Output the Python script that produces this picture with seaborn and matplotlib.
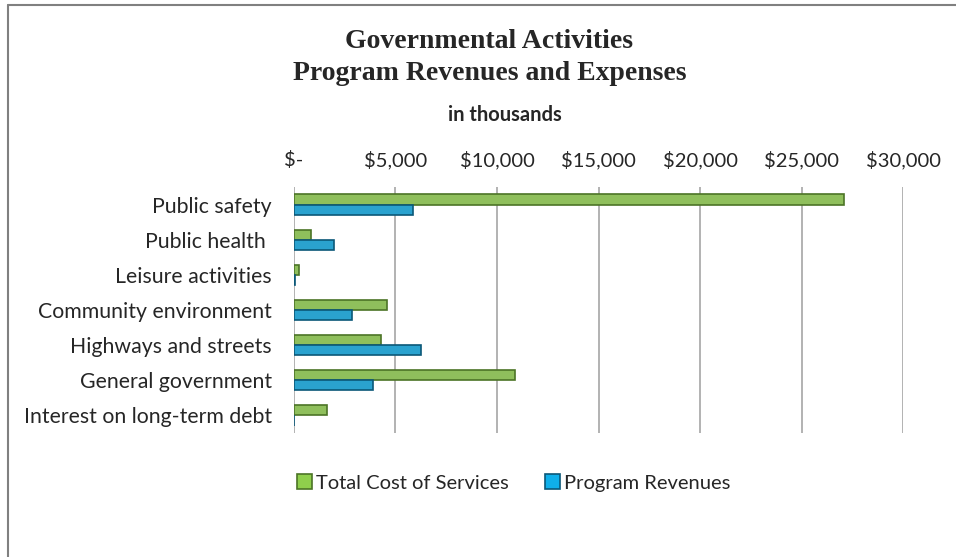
import pandas as pd
import matplotlib
matplotlib.use("Agg")
import matplotlib.pyplot as plt
from matplotlib.lines import Line2D
from matplotlib.patches import Patch
import seaborn as sns

# data (in thousands)
categories = ["Public safety", "Public health ", "Leisure activities", "Community environment",
              "Highways and streets", "General government", "Interest on long-term debt"]
total_cost = [27070, 820, 230, 4570, 4290, 10900, 1650]
program_rev = [5840, 1970, 70, 2860, 6280, 3880, 0]
series_names = ["Total Cost of Services", "Program Revenues"]
tick_values = [0, 5000, 10000, 15000, 20000, 25000, 30000]
tick_labels = ["$-", "$5,000", "$10,000", "$15,000", "$20,000", "$25,000", "$30,000"]

df = pd.concat([
    pd.DataFrame({"Category": categories, "Value": total_cost, "Series": series_names[0]}),
    pd.DataFrame({"Category": categories, "Value": program_rev, "Series": series_names[1]}),
], ignore_index=True)

sns.set_theme(style="white")
plt.rcParams['font.family'] = ['Lato', 'DejaVu Sans']

fill_colors = {series_names[0]: "#8FCF4C", series_names[1]: "#0FAFEA"}
edge_colors = {series_names[0]: "#4C7426", series_names[1]: "#0B5878"}

fig = plt.figure(figsize=(9.56, 5.57), dpi=100)
ax = fig.add_axes([0.3075, 0.2226, 0.6372, 0.4416])

sns.barplot(data=df, y="Category", x="Value", hue="Series", order=categories,
            hue_order=series_names, palette=fill_colors, width=0.58,
            orient="h", ax=ax, legend=False, errorbar=None)

# darker edges per series, like the bevelled bars of the original
for container, name in zip(ax.containers, series_names):
    for bar in container:
        bar.set_edgecolor(edge_colors[name])
        bar.set_linewidth(1.2)

ax.set_xlim(0, 30000)
ax.set_xticks(tick_values)
ax.set_xticklabels(tick_labels, fontsize=14.5)
ax.xaxis.tick_top()
ax.tick_params(axis="x", length=0, pad=13)
ax.tick_params(axis="y", length=0, pad=16, labelsize=15.3)
ax.set_xlabel("")
ax.set_ylabel("")
ax.grid(axis="x", color="#A6A6A6", linewidth=1.2)
ax.grid(axis="y", visible=False)
ax.set_axisbelow(True)
for side in ["top", "right", "bottom", "left"]:
    ax.spines[side].set_visible(False)

fig.text(0.512, 0.897, "Governmental Activities\nProgram Revenues and Expenses",
         ha="center", va="center", fontsize=20, fontweight="bold",
         family=["Liberation Serif"], linespacing=1.38)
fig.text(0.528, 0.793, "in thousands", ha="center", va="center",
         fontsize=14.5, fontweight="bold")

handles = [Patch(facecolor=fill_colors[n], edgecolor=edge_colors[n], linewidth=1.2)
           for n in series_names]
fig.legend(handles, series_names, loc="center", bbox_to_anchor=(0.537, 0.133),
           ncol=2, frameon=False, fontsize=14.5, handlelength=0.75, handleheight=0.75,
           handletextpad=0.2, columnspacing=1.8)

# outer chart frame (top and left edges visible in the reference)
fig.add_artist(Line2D([8 / 956, 1], [1 - 5 / 557, 1 - 5 / 557],
                      transform=fig.transFigure, color="#808080", linewidth=1.5))
fig.add_artist(Line2D([8 / 956, 8 / 956], [0, 1 - 5 / 557],
                      transform=fig.transFigure, color="#808080", linewidth=1.5))

fig.savefig("out.png", dpi=100)
